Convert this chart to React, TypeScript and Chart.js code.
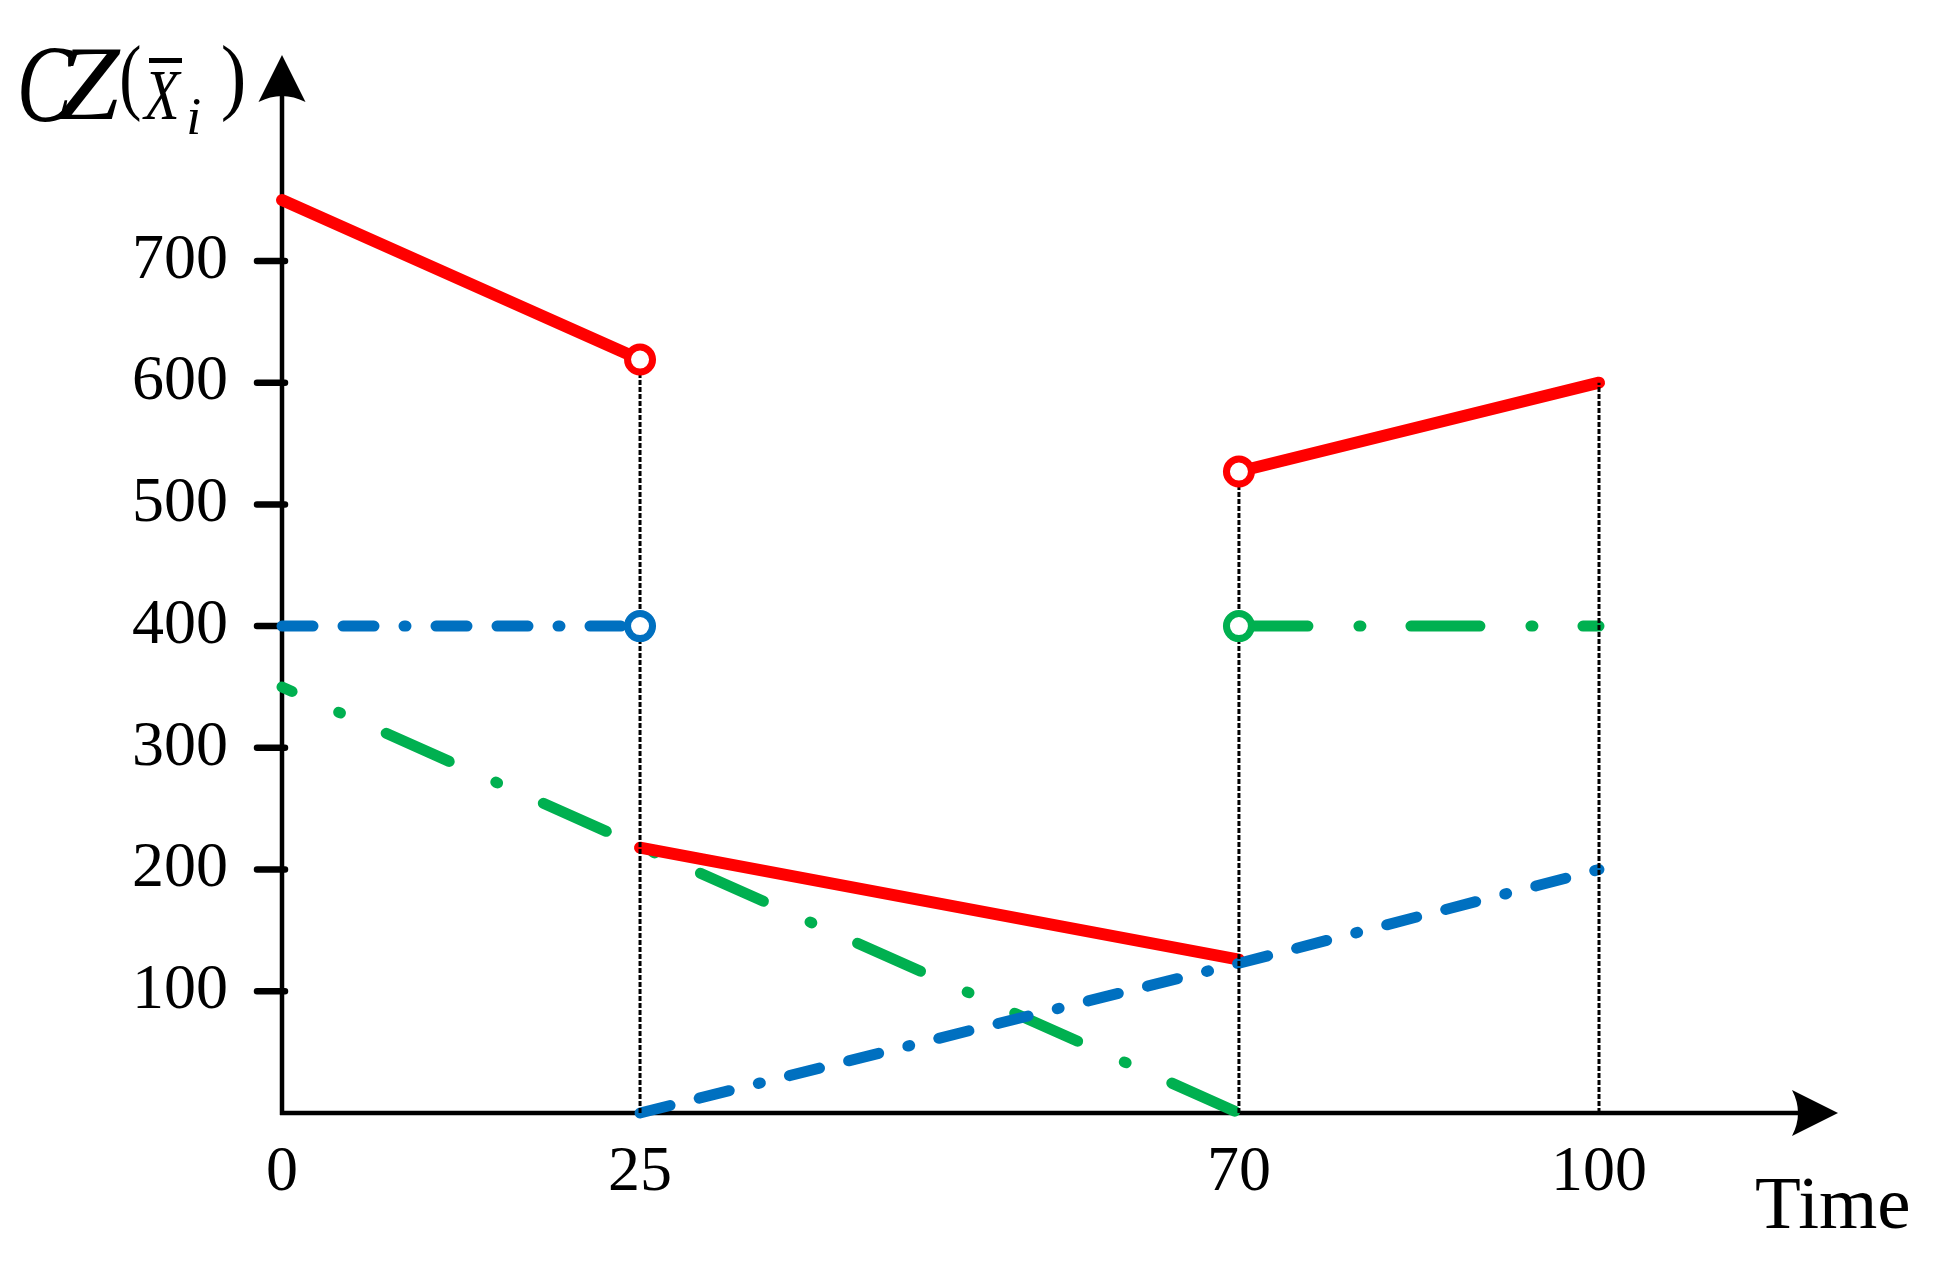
import React, { useEffect, useRef } from 'react';
import { Chart, registerables, LinearScale } from 'chart.js';

Chart.register(...registerables);

// ---- data ----
const timeTicks = [0, 25, 70, 100];
const yTickValues = [100, 200, 300, 400, 500, 600, 700];

const redTimes1 = [0, 25];
const redValues1 = [750, 619];
const redTimes2 = [25, 70];
const redValues2 = [218, 126];
const redTimes3 = [70, 100];
const redValues3 = [527, 600];

const blueTimes1 = [0, 25];
const blueValues1 = [400, 400];
const blueTimes2 = [25, 70, 100];
const blueValues2 = [0, 123, 200];

const greenTimes1 = [0, 70];
const greenValues1 = [350, 0];
const greenTimes2 = [70, 100];
const greenValues2 = [400, 400];

const redOpenTimes = [25, 70];
const redOpenValues = [619, 527];
const blueOpenTimes = [25];
const blueOpenValues = [400];
const greenOpenTimes = [70];
const greenOpenValues = [400];

const guideTimes = [25, 70, 100];
const guideTops = [619, 527, 600];

// ---- piecewise time axis (the original axis is not drawn to a uniform scale) ----
const X_BREAKS = [0, 25, 70, 100, 120];
const X_FRACS = [0, 0.2301, 0.615, 0.8464, 1];

function timeToDec(v: number) {
  const n = X_BREAKS.length;
  let i = 0;
  if (v <= X_BREAKS[0]) i = 0;
  else if (v >= X_BREAKS[n - 1]) i = n - 2;
  else {
    while (i < n - 2 && v > X_BREAKS[i + 1]) i++;
  }
  const t = (v - X_BREAKS[i]) / (X_BREAKS[i + 1] - X_BREAKS[i]);
  return X_FRACS[i] + t * (X_FRACS[i + 1] - X_FRACS[i]);
}
function decToTime(d: number) {
  const n = X_FRACS.length;
  let i = 0;
  if (d <= X_FRACS[0]) i = 0;
  else if (d >= X_FRACS[n - 1]) i = n - 2;
  else {
    while (i < n - 2 && d > X_FRACS[i + 1]) i++;
  }
  const t = (d - X_FRACS[i]) / (X_FRACS[i + 1] - X_FRACS[i]);
  return X_BREAKS[i] + t * (X_BREAKS[i + 1] - X_BREAKS[i]);
}

class PiecewiseScale extends LinearScale {
  static id = 'piecewise';
  static defaults = LinearScale.defaults;
  getPixelForValue(value: any) {
    if (value === null || value === undefined || isNaN(value)) return NaN;
    return this.getPixelForDecimal(timeToDec(+value));
  }
  getValueForPixel(pixel: number) {
    return decToTime(this.getDecimalForPixel(pixel));
  }
}
Chart.register(PiecewiseScale as any);

const pts = (xs: number[], ys: number[]) => xs.map((x, i) => ({ x, y: ys[i] }));

const RED = '#ff0000';
const BLUE = '#0070c0';
const GREEN = '#00b050';
const SERIF = '"Liberation Serif", "Times New Roman", serif';

const BLUE_DASH = [31, 30, 31, 30, 2, 30];
const GREEN_DASH = [69, 51, 2, 50];

// draw a glyph so that its ink fills the given box (r === null keeps the aspect ratio)
function fitGlyph(ctx: any, text: string, font: string, l: number, t: number, r: number | null, b: number) {
  ctx.save();
  ctx.font = font;
  ctx.textAlign = 'left';
  ctx.textBaseline = 'alphabetic';
  const m = ctx.measureText(text);
  const w = m.actualBoundingBoxLeft + m.actualBoundingBoxRight;
  const h = m.actualBoundingBoxAscent + m.actualBoundingBoxDescent;
  const sy = (b - t) / h;
  const sx = r === null ? sy : (r - l) / w;
  ctx.translate(l, t);
  ctx.scale(sx, sy);
  ctx.fillText(text, m.actualBoundingBoxLeft, m.actualBoundingBoxAscent);
  ctx.restore();
}

const axesPlugin = {
  id: 'axesArrows',
  beforeDatasetsDraw(chart: any) {
    const { ctx, chartArea, scales } = chart;
    const x0 = chartArea.left;
    const y0 = chartArea.bottom;
    const top = chartArea.top;
    const right = chartArea.right;
    ctx.save();
    ctx.strokeStyle = '#000';
    ctx.fillStyle = '#000';
    ctx.lineWidth = 4.5;
    ctx.lineCap = 'butt';
    ctx.beginPath();
    ctx.moveTo(x0, y0 + 2);
    ctx.lineTo(x0, top + 40);
    ctx.moveTo(x0 - 2, y0);
    ctx.lineTo(right - 40, y0);
    ctx.stroke();
    // y arrow
    ctx.beginPath();
    ctx.moveTo(x0, top + 1);
    ctx.lineTo(x0 + 23.5, top + 48);
    ctx.quadraticCurveTo(x0, top + 36, x0 - 23.5, top + 48);
    ctx.closePath();
    ctx.fill();
    // x arrow
    ctx.beginPath();
    ctx.moveTo(right, y0);
    ctx.lineTo(right - 46, y0 - 23);
    ctx.quadraticCurveTo(right - 34, y0, right - 46, y0 + 23);
    ctx.closePath();
    ctx.fill();
    // y tick marks
    ctx.lineWidth = 6.5;
    ctx.lineCap = 'round';
    ctx.beginPath();
    for (const v of yTickValues) {
      const py = scales.y.getPixelForValue(v);
      ctx.moveTo(x0 - 25, py);
      ctx.lineTo(x0 + 3, py);
    }
    ctx.stroke();
    ctx.restore();
  },
  afterDraw(chart: any) {
    const { ctx } = chart;
    ctx.save();
    ctx.fillStyle = '#000';
    // y-axis title: CZ( X̄ _i )
    fitGlyph(ctx, 'C', `italic 100px ${SERIF}`, 21, 48, 73, 122);
    fitGlyph(ctx, 'Z', `italic 100px ${SERIF}`, 58, 50, 121, 120);
    fitGlyph(ctx, '(', `100px ${SERIF}`, 122, 45, 140, 123);
    fitGlyph(ctx, 'X', `italic 100px ${SERIF}`, 142, 72, 182, 120);
    ctx.fillRect(149, 58, 33, 5);
    fitGlyph(ctx, 'i', `italic 100px ${SERIF}`, 189, 99, null, 135);
    fitGlyph(ctx, ')', `100px ${SERIF}`, 223, 45, 243, 123);
    // x-axis title
    ctx.font = `75px ${SERIF}`;
    ctx.textAlign = 'left';
    ctx.textBaseline = 'alphabetic';
    ctx.fillText('Time', 1755, 1228);
    ctx.restore();
  },
};

const lineDs = (data: any[], color: string, width: number, dash: number[] = [], offset = 0) => ({
  data,
  borderColor: color,
  borderWidth: width,
  borderDash: dash,
  borderDashOffset: offset,
  borderCapStyle: 'round',
  borderJoinStyle: 'round',
  pointRadius: 0,
  pointHoverRadius: 0,
  fill: false,
  tension: 0,
  clip: false,
});

const openDs = (data: any[], color: string) => ({
  data,
  showLine: false,
  borderColor: color,
  backgroundColor: '#ffffff',
  pointRadius: 12.5,
  pointHoverRadius: 12.5,
  pointBorderWidth: 7,
  pointBackgroundColor: '#ffffff',
  pointBorderColor: color,
  clip: false,
});

export default function App() {
  const ref = useRef<HTMLCanvasElement | null>(null);
  useEffect(() => {
    if (!ref.current) return;
    const guideSets = guideTimes.map((t, i) =>
      lineDs(pts([t, t], [0, guideTops[i]]), '#000000', 3, [5, 2])
    );
    guideSets.forEach((g: any) => (g.borderCapStyle = 'butt'));
    const chart = new Chart(ref.current, {
      type: 'line',
      data: {
        datasets: [
          openDs(pts(redOpenTimes, redOpenValues), RED),
          openDs(pts(blueOpenTimes, blueOpenValues), BLUE),
          openDs(pts(greenOpenTimes, greenOpenValues), GREEN),
          ...guideSets,
          lineDs(pts(blueTimes1, blueValues1), BLUE, 11, BLUE_DASH, 0),
          lineDs(pts(blueTimes2, blueValues2), BLUE, 11, BLUE_DASH, 0),
          lineDs(pts(redTimes1, redValues1), RED, 12),
          lineDs(pts(redTimes2, redValues2), RED, 12),
          lineDs(pts(redTimes3, redValues3), RED, 12),
          lineDs(pts(greenTimes1, greenValues1), GREEN, 11, GREEN_DASH, 58),
          lineDs(pts(greenTimes2, greenValues2), GREEN, 11, GREEN_DASH, 0),
        ] as any,
      },
      options: {
        animation: false,
        responsive: false,
        devicePixelRatio: 1,
        layout: { padding: { top: 54, right: 95, left: 0, bottom: 0 } },
        plugins: { legend: { display: false }, tooltip: { enabled: false } },
        events: [],
        scales: {
          x: {
            type: 'piecewise' as any,
            min: 0,
            max: 120,
            grid: { display: false, drawTicks: false },
            border: { display: false },
            afterBuildTicks: (s: any) => {
              s.ticks = timeTicks.map((v) => ({ value: v }));
            },
            afterFit: (s: any) => {
              s.height = 148;
              s.paddingLeft = 0;
              s.paddingRight = 0;
              s.paddingTop = 0;
              s.paddingBottom = 0;
            },
            ticks: {
              padding: 22,
              autoSkip: false,
              maxRotation: 0,
              minRotation: 0,
              color: '#000',
              font: { family: SERIF, size: 64 },
              callback: (v: any) => String(v),
            },
          },
          y: {
            type: 'linear',
            min: 0,
            max: 870,
            grid: { display: false, drawTicks: false },
            border: { display: false },
            afterBuildTicks: (s: any) => {
              s.ticks = yTickValues.map((v) => ({ value: v }));
            },
            afterFit: (s: any) => {
              s.width = 282;
              s.paddingLeft = 0;
              s.paddingRight = 0;
              s.paddingTop = 0;
              s.paddingBottom = 0;
            },
            ticks: {
              padding: 54,
              color: '#000',
              font: { family: SERIF, size: 64 },
              callback: (v: any) => String(v),
            },
          },
        } as any,
      },
      plugins: [axesPlugin],
    });
    return () => chart.destroy();
  }, []);
  return (
    <canvas
      ref={ref}
      width={1933}
      height={1261}
      style={{ position: 'absolute', left: 0, top: 0, display: 'block', background: '#fff' }}
    />
  );
}
